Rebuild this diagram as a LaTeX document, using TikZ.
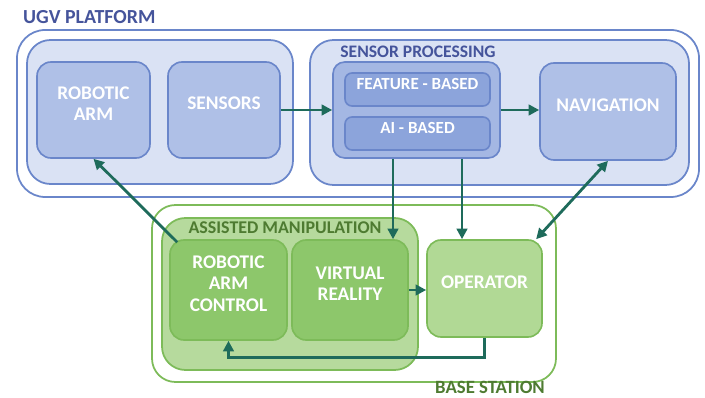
\documentclass[tikz,border=0pt]{standalone}
\usepackage{fontspec}
\setmainfont{Carlito}
\usetikzlibrary{arrows.meta,fit,positioning}

\definecolor{blueline}{HTML}{6A86CA}
\definecolor{bluezone}{HTML}{DAE2F4}
\definecolor{bluebox}{HTML}{AFC0E7}
\definecolor{bluegroup}{HTML}{A4B7E3}
\definecolor{bluesub}{HTML}{8CA4DB}
\definecolor{bluetitle}{HTML}{45549B}
\definecolor{greenline}{HTML}{7DBB59}
\definecolor{greenzone}{HTML}{B6DA9D}
\definecolor{greenbox}{HTML}{8DC76B}
\definecolor{greenop}{HTML}{B1D995}
\definecolor{greentitle}{HTML}{4E7B31}
\definecolor{flowcol}{HTML}{1E6B5B}

\tikzset{
  zone/.style={draw=#1, line width=1.5pt, rounded corners=20pt, inner sep=0pt},
  box/.style={draw=#1, line width=1.4pt, rounded corners=12pt, inner sep=0pt,
    text=white, align=center, font=\fontsize{16.5}{18.5}\selectfont\bfseries},
  subbox/.style={draw=blueline, fill=bluesub, line width=1.4pt, rounded corners=6pt,
    inner sep=0pt, text=white, font=\fontsize{14.5}{16}\selectfont\bfseries},
  title/.style={font=\fontsize{#1}{#1}\selectfont\bfseries},
  flow/.style={draw=flowcol, line width=2.4pt, -{Triangle[length=9pt,width=9pt]}},
}

\begin{document}
\begin{tikzpicture}[x=0.3mm,y=-0.3mm]
\useasboundingbox (0,0) rectangle (705,398);

% ugv platform
\node[zone=blueline, fill=white, rounded corners=24pt, fit={(17,30) (699,197)}] (ugv) {};
\node[title=17, text=bluetitle, anchor=west] (ugvtitle) at (19,17) {UGV PLATFORM};
\node[zone=blueline, fill=bluezone, fit={(27,40) (293,184)}] (onboard) {};
\node[zone=blueline, fill=bluezone, fit={(310,40) (689,185)}] (proc) {};
\node[title=15, text=bluetitle] (proctitle) at (418,52) {SENSOR PROCESSING};
\node[box=blueline, fill=bluebox, fit={(37,62) (150,158)}] (arm) {ROBOTIC\\ARM};
\node[box=blueline, fill=bluebox, fit={(168,62) (280,158)}] (sensors) {SENSORS};
\node[box=blueline, fill=bluegroup, rounded corners=10pt, fit={(333,62) (500,158)}] (group) {};
\node[subbox, fit={(345,73) (490,106)}] (feature) {FEATURE - BASED};
\node[subbox, fit={(345,117) (490,150)}] (ai) {AI - BASED};
\node[box=blueline, fill=bluebox, fit={(540,63) (676,160)}] (nav) {NAVIGATION};

% base station
\node[zone=greenline, fill=white, fit={(152,205) (556,382)}] (base) {};
\node[title=16, text=greentitle, anchor=base] (basetitle) at (490,393) {BASE STATION};
\node[zone=greenline, fill=greenzone, fit={(162,218) (418,370)}] (assist) {};
\node[title=15.3, text=greentitle] (assisttitle) at (285,228) {ASSISTED MANIPULATION};
\node[box=greenline, fill=greenbox, fit={(170,240) (287,340)}] (ctrl) {ROBOTIC\\ARM\\CONTROL};
\node[box=greenline, fill=greenbox, fit={(292,240) (408,340)}] (vr) {VIRTUAL\\REALITY};
\node[box=greenline, fill=greenop, fit={(427,240) (542,337)}] (op) {OPERATOR};

% links
\coordinate (vrin) at (393,0);
\coordinate (opin) at (462,0);
\draw[flow] (sensors) -- (group);
\draw[flow] (group.east) -- (group.east -| nav.west);
\draw[flow] (group.south -| vrin) -- (vr.north -| vrin);
\draw[flow] (group.south -| opin) -- (op.north -| opin);
\draw[flow, {Triangle[length=9pt,width=9pt]}-{Triangle[length=9pt,width=9pt]}]
  (nav.south) -- ([xshift=-2mm]op.north east);
\draw[flow] ([shift={(2.4mm,-0.9mm)}]ctrl.north west) -- (arm.south);
\draw[flow] (vr.east) -- (vr.east -| op.west);
\draw[flow] (op.south) -- ++(0,20) -| (ctrl.south);
\end{tikzpicture}
\end{document}
